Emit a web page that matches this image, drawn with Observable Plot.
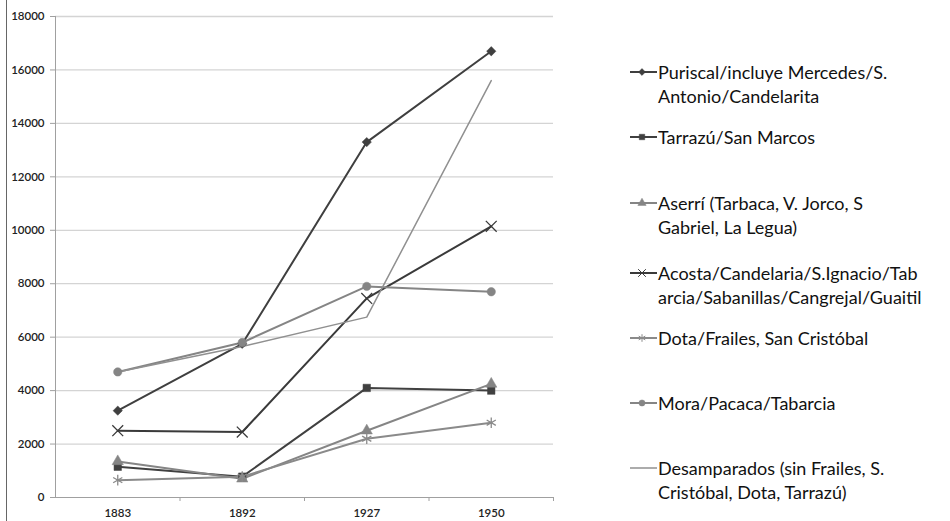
<!DOCTYPE html>
<html><head><meta charset="utf-8">
<script src="https://cdn.jsdelivr.net/npm/d3@7"></script>
<script src="https://cdn.jsdelivr.net/npm/@observablehq/plot@0.6"></script>
<style>
body{margin:0;background:#fff;}
#wrap{position:relative;width:950px;height:521px;overflow:hidden;font-family:Lato,"Open Sans",sans-serif;}
#border{position:absolute;left:6px;top:0;width:1px;height:521px;background:#666;}
#chart{position:absolute;left:0;top:0;}
.entry{position:absolute;left:630px;font-size:18px;line-height:24px;color:#111;white-space:nowrap;}
.entry svg{position:absolute;left:0;top:2px;}
.entry .txt{position:absolute;left:28px;top:0;}
</style></head><body>
<div id="wrap"><div id="chart"></div><div id="border"></div><div id="legend"></div></div>
<script>
const years = ["1883", "1892", "1927", "1950"];
const yTicks = [0, 2000, 4000, 6000, 8000, 10000, 12000, 14000, 16000, 18000];

const puriscal     = [3250, 5750, 13300, 16700];
const tarrazu      = [1150, 780, 4100, 4000];
const aserri       = [1350, 700, 2500, 4250];
const acosta       = [2500, 2450, 7450, 10150];
const dota         = [650, 780, 2200, 2800];
const mora         = [4700, 5800, 7900, 7700];
const desamparados = [4700, 5650, 6750, 15600];

const seriesNames = [
  "Puriscal/incluye Mercedes/S. Antonio/Candelarita",
  "Tarrazú/San Marcos",
  "Aserrí (Tarbaca, V. Jorco, S Gabriel, La Legua)",
  "Acosta/Candelaria/S.Ignacio/Tabarcia/Sabanillas/Cangrejal/Guaitil",
  "Dota/Frailes, San Cristóbal",
  "Mora/Pacaca/Tabarcia",
  "Desamparados (sin Frailes, S. Cristóbal, Dota, Tarrazú)"
];
const legendLines = [
  ["Puriscal/incluye Mercedes/S.", "Antonio/Candelarita"],
  ["Tarrazú/San Marcos"],
  ["Aserrí (Tarbaca, V. Jorco, S", "Gabriel, La Legua)"],
  ["Acosta/Candelaria/S.Ignacio/Tab", "arcia/Sabanillas/Cangrejal/Guaitil"],
  ["Dota/Frailes, San Cristóbal"],
  ["Mora/Pacaca/Tabarcia"],
  ["Desamparados (sin Frailes, S.", "Cristóbal, Dota, Tarrazú)"]
];
const seriesValues = [puriscal, tarrazu, aserri, acosta, dota, mora, desamparados];
const seriesColors = ["#3f3f3f", "#404040", "#858585", "#3a3a3a", "#8a8a8a", "#858585", "#909090"];
const markerTypes = ["diamond2", "square", "triangle", "times", "asterisk", "circle", null];
const lineWidths = [2, 2, 2, 2, 2, 2, 1.5];

const rows = [];
seriesNames.forEach((name, s) => {
  seriesValues[s].forEach((v, i) => rows.push({series: name, s, xi: i + 0.5, value: v, marker: markerTypes[s]}));
});
const markerRows = rows.filter(d => d.marker);
const filledRows = markerRows.filter(d => d.marker !== "times" && d.marker !== "asterisk");
const strokeRows = markerRows.filter(d => d.marker === "times" || d.marker === "asterisk");

const chart = Plot.plot({
  width: 950, height: 521,
  marginLeft: 55, marginRight: 397, marginTop: 16, marginBottom: 24,
  style: {fontFamily: "Lato, 'Open Sans', sans-serif", fontSize: "11.5px", fontWeight: 600, color: "#222", background: "transparent"},
  x: {domain: [0, 4], axis: null, label: null},
  y: {domain: [0, 18000], axis: null, label: null},
  color: {domain: seriesNames, range: seriesColors},
  marks: [
    Plot.gridY(yTicks.filter(d => d > 0), {stroke: "#d4d4d4", strokeOpacity: 1, strokeWidth: 1.3}),
    Plot.axisY(yTicks, {label: null, tickSize: 5, tickPadding: 6, stroke: "#a0a0a0", fill: "#222", tickFormat: d => String(d)}),
    Plot.ruleX([0], {stroke: "#a0a0a0"}),
    Plot.ruleY([0], {stroke: "#a0a0a0"}),
    Plot.axisX([1, 2, 3, 4], {label: null, tickSize: 4, stroke: "#a0a0a0", tickFormat: () => ""}),
    Plot.axisX(years.map((y, i) => i + 0.5), {label: null, tickSize: 0, tickPadding: 11, fill: "#222", tickFormat: d => years[Math.floor(d)]}),
    ...seriesNames.map((name, s) =>
      Plot.line(rows.filter(d => d.s === s), {x: "xi", y: "value", stroke: "series", strokeWidth: lineWidths[s]})
    ),
    Plot.dot(filledRows, {x: "xi", y: "value", symbol: "marker", fill: "series", stroke: "series", strokeWidth: 0.5, r: 4.2}),
    Plot.dot(strokeRows, {x: "xi", y: "value", symbol: "marker", stroke: "series", strokeWidth: 1.3, r: 5})
  ]
});
document.getElementById("chart").appendChild(chart);

// Legend
const legendTops = [60, 125, 191, 261, 326, 391, 456];
const legend = d3.select("#legend");
const types = {diamond2: d3.symbolDiamond2, square: d3.symbolSquare, triangle: d3.symbolTriangle, times: d3.symbolTimes, asterisk: d3.symbolAsterisk, circle: d3.symbolCircle};
seriesNames.forEach((name, s) => {
  const e = legend.append("div").attr("class", "entry").style("top", legendTops[s] + "px");
  const svg = e.append("svg").attr("width", 28).attr("height", 20);
  svg.append("line").attr("x1", 0).attr("x2", 27).attr("y1", 10).attr("y2", 10)
    .attr("stroke", seriesColors[s]).attr("stroke-width", lineWidths[s]);
  const m = markerTypes[s];
  if (m) {
    const stroked = m === "times" || m === "asterisk";
    svg.append("path").attr("transform", "translate(12,10)")
      .attr("d", d3.symbol(types[m], stroked ? 40 : 30)())
      .attr("fill", stroked ? "none" : seriesColors[s])
      .attr("stroke", seriesColors[s]).attr("stroke-width", stroked ? 1 : 0.5);
  }
  const t = e.append("div").attr("class", "txt");
  legendLines[s].forEach(l => t.append("div").text(l));
});
</script>
</body></html>
